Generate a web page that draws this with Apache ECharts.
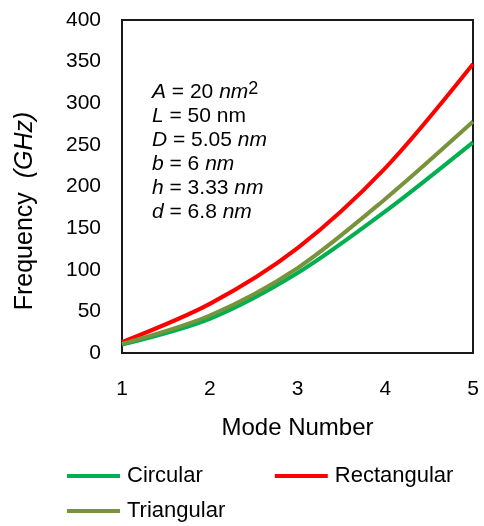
<!DOCTYPE html>
<html>
<head>
<meta charset="utf-8">
<script src="https://cdn.jsdelivr.net/npm/echarts@6/dist/echarts.min.js"></script>
<style>html,body{margin:0;padding:0;background:#fff}#c{width:484px;height:526px}</style>
</head>
<body>
<div id="c"></div>
<script>
const modes = [1, 2, 3, 4, 5];
const circular = [10, 41, 96, 170, 253];
const rectangular = [13, 59, 126, 222, 347];
const triangular = [11, 45, 102, 185, 278];
const seriesNames = ['Circular', 'Rectangular', 'Triangular'];
const xTitle = 'Mode Number';
const yTitle = 'Frequency  {i|(GHz)}';
const noteLines = [
  '{i|A} = 20 {i|nm}{sup|2}',
  '{i|L} = 50 nm',
  '{i|D} = 5.05 {i|nm}',
  '{i|b} = 6 {i|nm}',
  '{i|h} = 3.33 {i|nm}',
  '{i|d} = 6.8 {i|nm}'
];

const FONT = '"Liberation Sans", Arial, Helvetica, sans-serif';
const colors = { Circular: '#00B050', Rectangular: '#FF0000', Triangular: '#77933C' };
const dataMap = { Circular: circular, Rectangular: rectangular, Triangular: triangular };

const chart = echarts.init(document.getElementById('c'), null, { renderer: 'canvas' });

const legendCommon = {
  icon: 'rect', itemWidth: 53, itemHeight: 4, orient: 'horizontal', padding: 0,
  textStyle: { fontFamily: FONT, fontSize: 22, color: '#000', padding: [0, 0, 0, 2] }
};

chart.setOption({
  animation: false,
  backgroundColor: '#fff',
  grid: { left: 122, right: 11, top: 20, bottom: 173, show: true, borderColor: '#1a1a1a', borderWidth: 2, backgroundColor: 'transparent' },
  legend: [
    Object.assign({}, legendCommon, { data: ['Circular', 'Rectangular'], left: 67, top: 465, itemGap: 72 }),
    Object.assign({}, legendCommon, { data: ['Triangular'], left: 67, top: 500 })
  ],
  xAxis: {
    type: 'value', min: 1, max: 5, interval: 1,
    name: xTitle, nameLocation: 'middle', nameGap: 63,
    nameTextStyle: { fontFamily: FONT, fontSize: 24, color: '#000' },
    axisLine: { show: true, lineStyle: { color: '#1a1a1a', width: 2 } },
    axisTick: { show: false },
    splitLine: { show: false },
    axisLabel: { fontFamily: FONT, fontSize: 21, color: '#000', margin: 26 }
  },
  yAxis: {
    type: 'value', min: 0, max: 400, interval: 50,
    axisLine: { show: true, lineStyle: { color: '#1a1a1a', width: 2 } },
    axisTick: { show: false },
    splitLine: { show: false },
    axisLabel: { fontFamily: FONT, fontSize: 21, color: '#000', margin: 21 }
  },
  graphic: [
    {
      type: 'text', x: 25, y: 211, rotation: Math.PI / 2,
      style: {
        text: yTitle, fontFamily: FONT, fontSize: 25, fill: '#000',
        align: 'center', verticalAlign: 'middle',
        rich: { i: { fontFamily: FONT, fontSize: 25, fontStyle: 'italic', fill: '#000' } }
      }
    },
    {
      type: 'text', x: 152, y: 80,
      style: {
        text: noteLines.join('\n'), fontFamily: FONT, fontSize: 21, fill: '#000', lineHeight: 24,
        rich: {
          i: { fontFamily: FONT, fontSize: 21, fontStyle: 'italic', fill: '#000', lineHeight: 24 },
          sup: { fontFamily: FONT, fontSize: 18, fill: '#000', verticalAlign: 'top', lineHeight: 24, padding: [0, 0, 14, 0] }
        }
      }
    }
  ],
  series: seriesNames.map(n => ({
    name: n, type: 'line', smooth: 0.3, symbol: 'none',
    lineStyle: { color: colors[n], width: 4 },
    itemStyle: { color: colors[n] },
    data: modes.map((m, i) => [m, dataMap[n][i]])
  }))
});
</script>
</body>
</html>
